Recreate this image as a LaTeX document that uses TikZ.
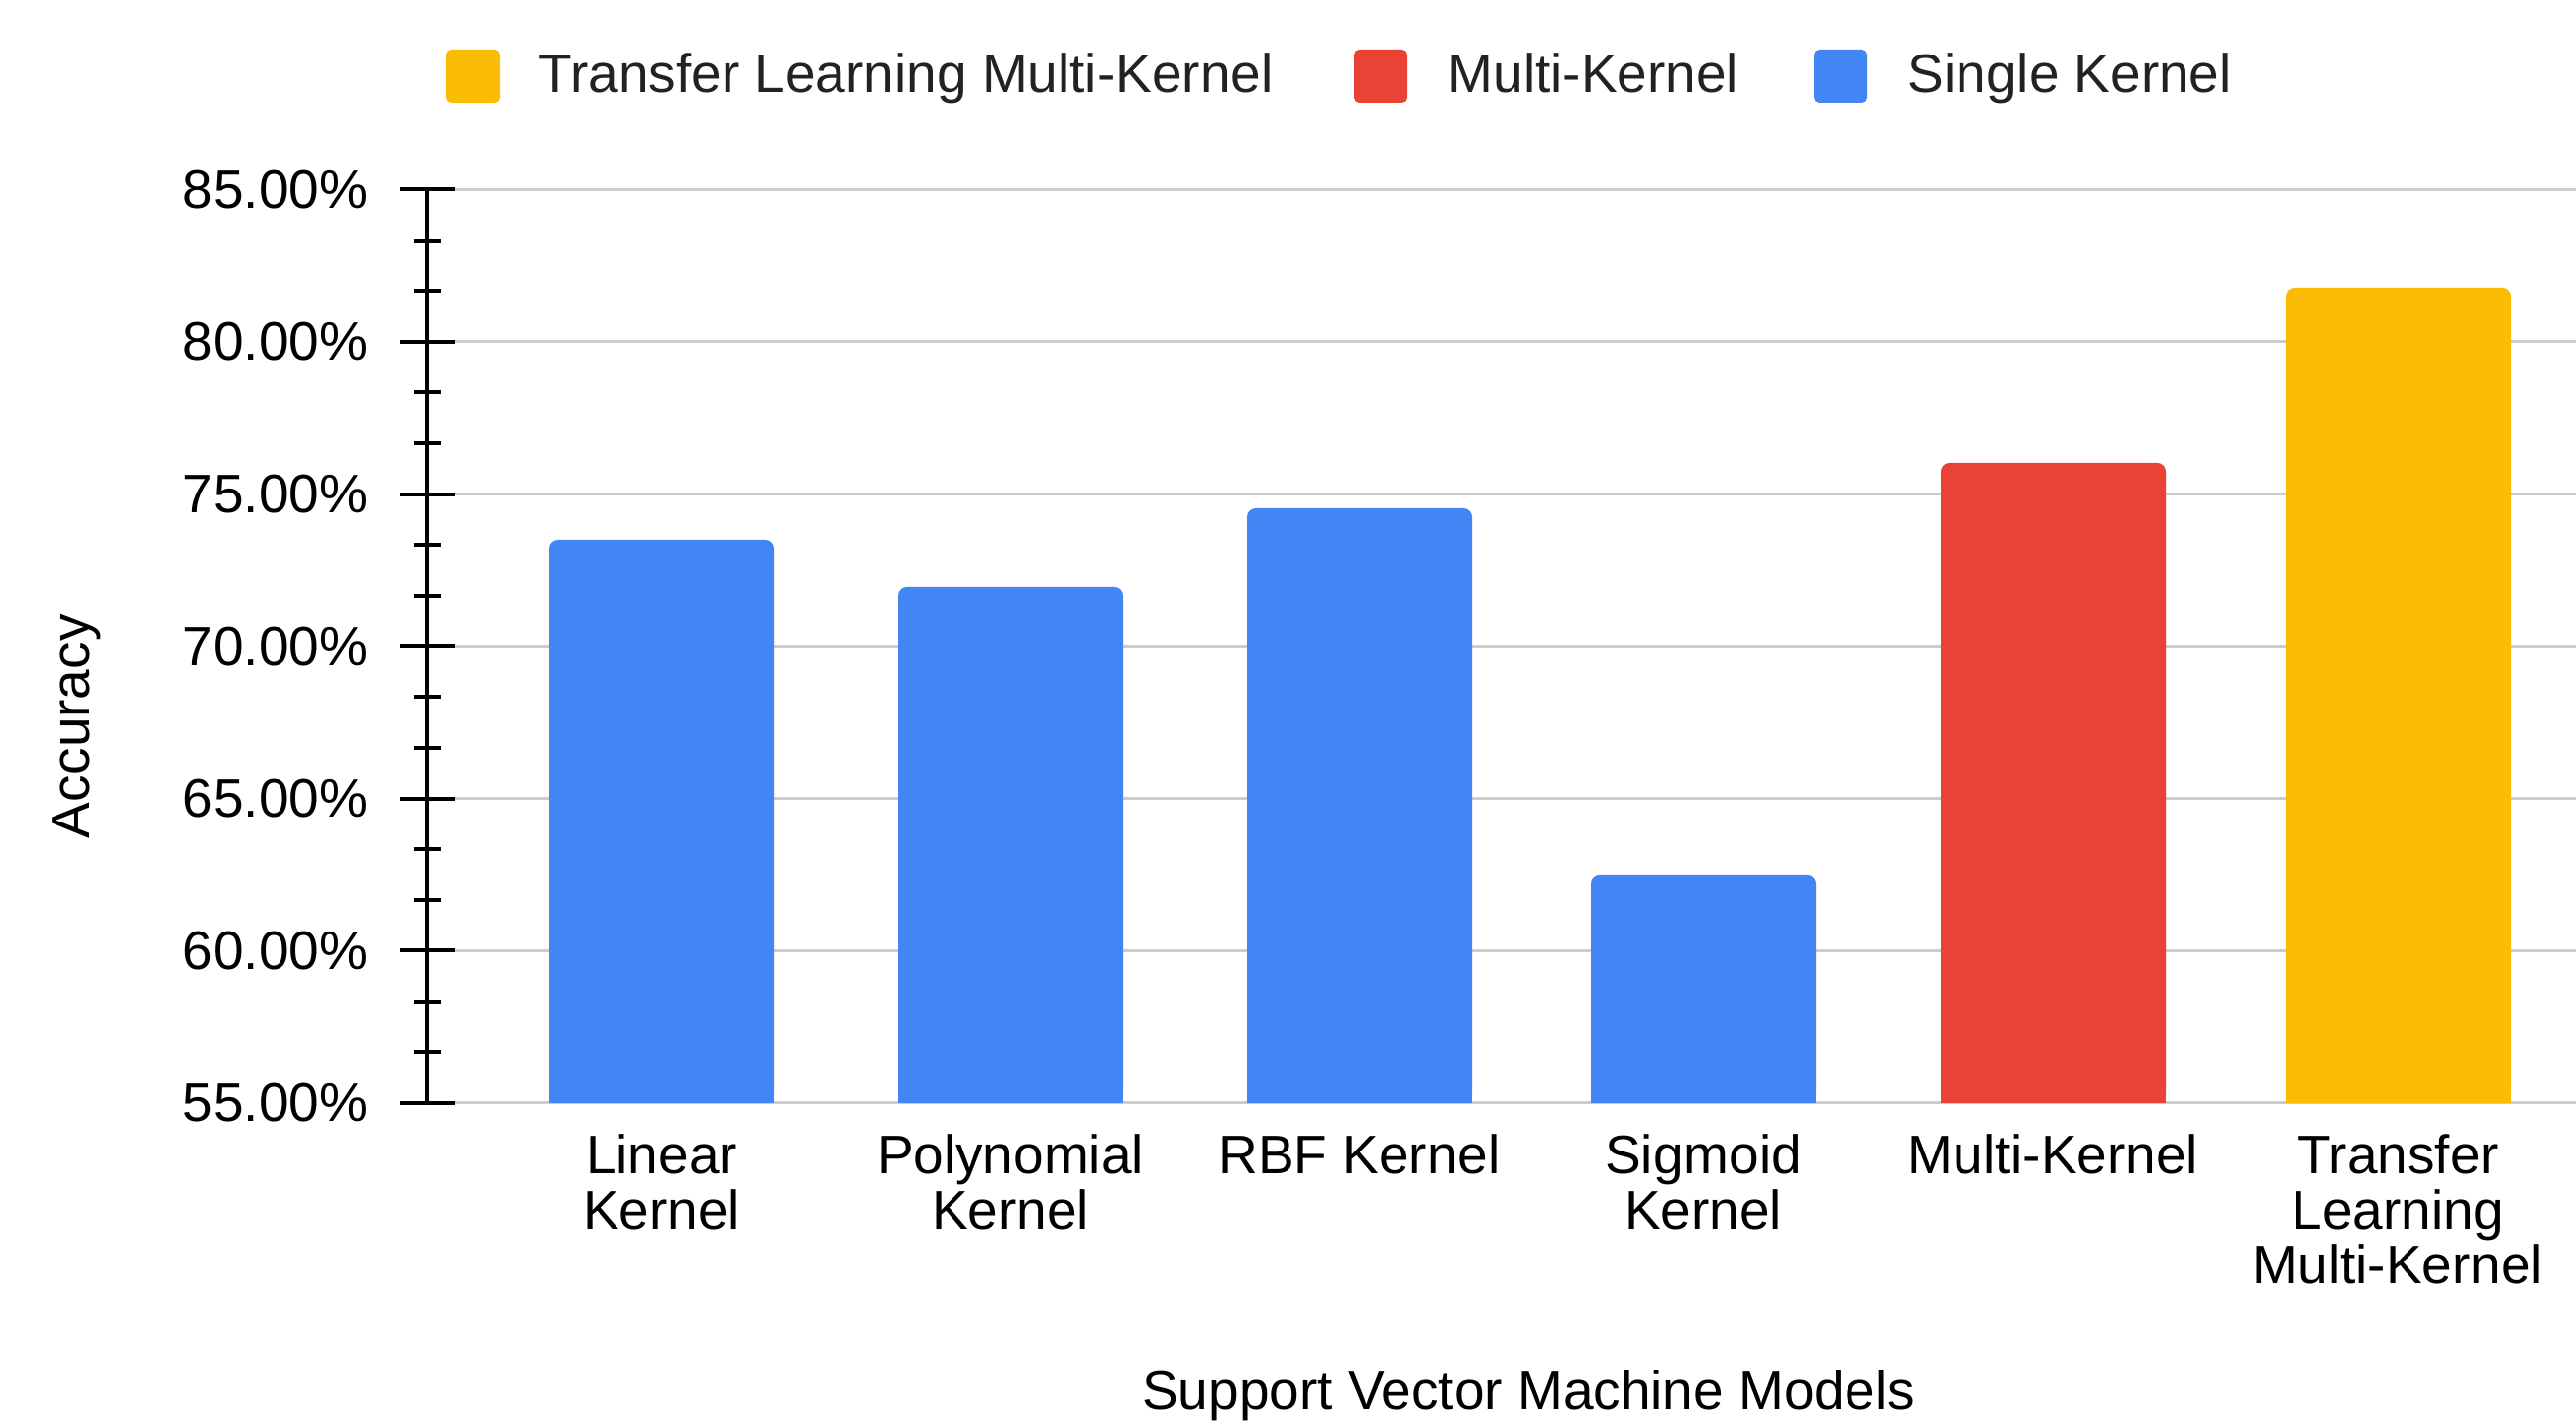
\documentclass[tikz,border=0pt]{standalone}
\usepackage{fontspec}
\setmainfont{Liberation Sans}
\usepackage{tikz}
\definecolor{skblue}{HTML}{4285F4}
\definecolor{skred}{HTML}{EA4335}
\definecolor{skyellow}{HTML}{FBBC04}
\definecolor{gridgray}{HTML}{CCCCCC}
\definecolor{legtext}{HTML}{222222}

\begin{document}
\begin{tikzpicture}[
	every node/.style={inner sep=0pt,font=\fontsize{15.65}{15.9}\selectfont},
	gridline/.style={draw=gridgray,line width=0.03cm},
	axisline/.style={draw=black,line width=0.04cm},
	ticklabel/.style={anchor=east},
	catlabel/.style={anchor=north,align=center},
	legendbox/.style={minimum size=0.54cm,rounded corners=1.5pt},
	legendtext/.style={anchor=base west,text=legtext}
]
\useasboundingbox (0,0) rectangle (25.99,14.37);
\node[legendbox,fill=skyellow] (keytl) at (4.77,13.60) {};
\node[legendtext] (txttl) at (5.43,13.43) {Transfer Learning Multi-Kernel};
\node[legendbox,fill=skred] (keymk) at (13.93,13.60) {};
\node[legendtext] (txtmk) at (14.60,13.43) {Multi-Kernel};
\node[legendbox,fill=skblue] (keysk) at (18.57,13.60) {};
\node[legendtext] (txtsk) at (19.24,13.43) {Single Kernel};
\node[rotate=90,anchor=base] (ytitle) at (0.90,7.035) {Accuracy};
\node[anchor=base] (xtitle) at (15.42,0.15) {Support Vector Machine Models};
\begin{scope}[y=0.3072cm,yshift=-13.656cm]
	\foreach \v in {55,60,...,85} {
		\draw[gridline] (4.59,\v) -- (25.99,\v);
		\node[ticklabel] (tick\v) at (3.72,\v) {\v.00\%};
	}
	\foreach \l/\h/\c/\t [count=\i] in {
		5.54/73.49/skblue/{Linear\\Kernel},
		9.06/71.96/skblue/{Polynomial\\Kernel},
		12.58/74.53/skblue/{RBF Kernel},
		16.05/62.49/skblue/{Sigmoid\\Kernel},
		19.58/76.03/skred/{Multi-Kernel},
		23.06/81.76/skyellow/{Transfer\\Learning\\Multi-Kernel}} {
		\fill[\c,rounded corners=2.5pt] (\l,55) rectangle ++(2.27,\h-55);
		\fill[\c] (\l,55) rectangle ++(2.27,3);
		\node[catlabel] (cat\i) at (\l+1.135,54) {\t};
	}
	\foreach \k in {0,...,18}
		\draw[axisline] (4.18,55+\k*5/3) -- (4.45,55+\k*5/3);
	\foreach \v in {55,60,...,85}
		\draw[axisline] (4.04,\v) -- (4.59,\v);
	\draw[axisline] (4.31,55) -- (4.31,85);
\end{scope}
\end{tikzpicture}
\end{document}
